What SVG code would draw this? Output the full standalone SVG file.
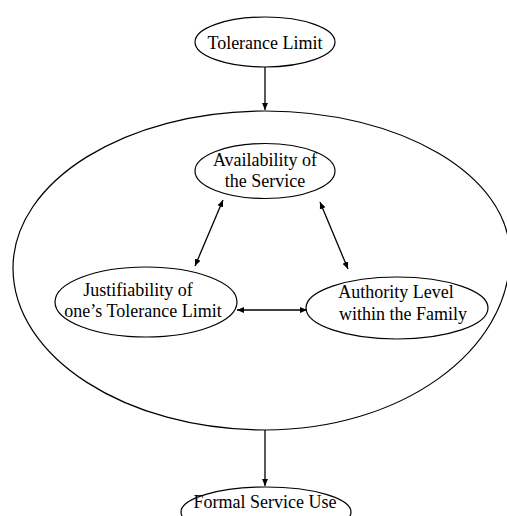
<svg xmlns="http://www.w3.org/2000/svg" width="507" height="516" viewBox="0 0 507 516">
<style>
.n{fill:none;stroke:#000;stroke-width:1.2}
.t{font-family:"Liberation Serif","Times New Roman",serif;font-size:18px;fill:#000;text-anchor:middle}
.c{stroke:#000;stroke-width:1.3;fill:none}
</style>
<defs>
<marker id="ah" markerWidth="8" markerHeight="8" refX="7" refY="4" orient="auto-start-reverse" markerUnits="userSpaceOnUse">
<path d="M0,1 L7,4 L0,7 Z" fill="#000"/>
</marker>
</defs>
<rect width="507" height="516" fill="#fff"/>
<g id="container">
<path class="n" d="M265,111 C400,111 510,175 510,255 C510,352 400,430 265,430 C126,430 13,357 13,268 C13,181 126,111 265,111 Z"/>
</g>
<g id="tolerance-limit">
<ellipse class="n" cx="265" cy="42" rx="70" ry="25"/>
<text class="t" x="265" y="49">Tolerance Limit</text>
</g>
<g id="availability">
<ellipse class="n" cx="265" cy="171" rx="70" ry="27.5"/>
<text class="t" x="265" y="166">Availability of</text>
<text class="t" x="265" y="187">the Service</text>
</g>
<g id="justifiability">
<ellipse class="n" cx="146" cy="302" rx="91" ry="35"/>
<text class="t" x="138" y="296">Justifiability of</text>
<text class="t" x="143" y="317">one’s Tolerance Limit</text>
</g>
<g id="authority">
<ellipse class="n" cx="397" cy="308" rx="91" ry="31"/>
<text class="t" x="396" y="298">Authority Level</text>
<text class="t" x="403" y="320">within the Family</text>
</g>
<g id="formal-service-use">
<ellipse class="n" cx="266" cy="512" rx="85" ry="25"/>
<text class="t" x="265" y="508">Formal Service Use</text>
</g>
<g id="connectors">
<line class="c" x1="265" y1="67" x2="265" y2="110" marker-end="url(#ah)"/>
<line class="c" x1="265" y1="430" x2="265" y2="486" marker-end="url(#ah)"/>
<line class="c" x1="223" y1="200" x2="195" y2="266" marker-start="url(#ah)" marker-end="url(#ah)"/>
<line class="c" x1="320" y1="202" x2="348" y2="269" marker-start="url(#ah)" marker-end="url(#ah)"/>
<line class="c" x1="237" y1="310" x2="307" y2="310" marker-start="url(#ah)" marker-end="url(#ah)"/>
</g>
</svg>
